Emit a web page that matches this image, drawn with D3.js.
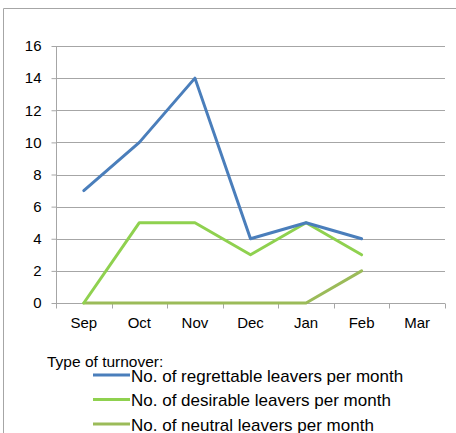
<!DOCTYPE html>
<html>
<head>
<meta charset="utf-8">
<script src="https://cdn.jsdelivr.net/npm/d3@7"></script>
<style>
  html, body { margin: 0; padding: 0; background: #fff; }
  svg { display: block; font-family: "Liberation Sans", Arial, sans-serif; }
</style>
</head>
<body>
<svg id="chart" width="456" height="433"></svg>
<script>
// Monthly staff turnover, split by type of leaver
const months = ["Sep", "Oct", "Nov", "Dec", "Jan", "Feb", "Mar"];
const regrettable = [7, 10, 14, 4, 5, 4];
const desirable = [0, 5, 5, 3, 5, 3];
const neutral = [0, 0, 0, 0, 0, 2];
const yTicks = [0, 2, 4, 6, 8, 10, 12, 14, 16];
const seriesNames = [
  "No. of regrettable leavers per month",
  "No. of desirable leavers per month",
  "No. of neutral leavers per month"
];
const seriesColors = ["#4a7ebb", "#8fd14f", "#9bbb59"];
const seriesValues = [regrettable, desirable, neutral];

const svg = d3.select("#chart");

// outer frame
svg.append("path")
  .attr("d", "M3.5,433 V8.5 H456")
  .attr("fill", "none")
  .attr("stroke", "#a6a6a6")
  .attr("stroke-width", 1);

const x = d3.scaleBand().domain(months).range([56, 445]);
const y = d3.scaleLinear().domain([0, 16]).range([303, 46]);

// horizontal gridlines
svg.append("g")
  .selectAll("line")
  .data(yTicks.filter(d => d > 0))
  .join("line")
  .attr("x1", 56).attr("x2", 445)
  .attr("y1", d => Math.round(y(d)) + 0.5)
  .attr("y2", d => Math.round(y(d)) + 0.5)
  .attr("stroke", "#a6a6a6");

// y axis
const yAxis = svg.append("g")
  .attr("transform", "translate(56.5,0)")
  .call(d3.axisLeft(y).tickValues(yTicks).tickSize(5).tickPadding(10).tickFormat(d3.format("d")));
yAxis.selectAll("text").attr("font-size", 15).attr("fill", "#000").attr("font-family", "Liberation Sans, Arial, sans-serif");
yAxis.selectAll("line, path").attr("stroke", "#a6a6a6");
yAxis.select(".domain").attr("d", "M0," + y(16) + "V" + (y(0) + 0.5));

// x axis with tick marks at category boundaries
const xg = svg.append("g").attr("transform", "translate(0," + (Math.round(y(0)) + 0.5) + ")");
xg.append("line").attr("x1", 56).attr("x2", 445).attr("stroke", "#a6a6a6");
const bounds = months.map(m => x(m)).concat([x.range()[1]]);
xg.selectAll("line.tick")
  .data(bounds)
  .join("line")
  .attr("class", "tick")
  .attr("x1", d => Math.round(d) + 0.5).attr("x2", d => Math.round(d) + 0.5)
  .attr("y1", 0).attr("y2", 5)
  .attr("stroke", "#a6a6a6");
xg.selectAll("text")
  .data(months)
  .join("text")
  .attr("x", d => x(d) + x.bandwidth() / 2)
  .attr("y", 24)
  .attr("text-anchor", "middle")
  .attr("font-size", 15)
  .attr("fill", "#000")
  .text(d => d);

// series lines
const line = d3.line()
  .x((d, i) => x(months[i]) + x.bandwidth() / 2)
  .y(d => y(d));

// neutral first, regrettable last, so the later series sit on top
[2, 1, 0].forEach(k => {
  svg.append("path")
    .datum(seriesValues[k])
    .attr("d", line)
    .attr("fill", "none")
    .attr("stroke", seriesColors[k])
    .attr("stroke-width", 3)
    .attr("stroke-linejoin", "round")
    .attr("stroke-linecap", "round");
});

// legend
svg.append("text")
  .attr("x", 47).attr("y", 366.5)
  .attr("font-size", 15.5)
  .attr("fill", "#000")
  .text("Type of turnover:");

const lg = svg.append("g");
seriesNames.forEach((name, i) => {
  const cy = 375 + i * 24.5;
  lg.append("line")
    .attr("x1", 93).attr("x2", 130)
    .attr("y1", cy).attr("y2", cy)
    .attr("stroke", seriesColors[i])
    .attr("stroke-width", 3);
  lg.append("text")
    .attr("x", 131).attr("y", cy + 6.5)
    .attr("font-size", 17)
    .attr("fill", "#000")
    .text(name);
});
</script>
</body>
</html>
